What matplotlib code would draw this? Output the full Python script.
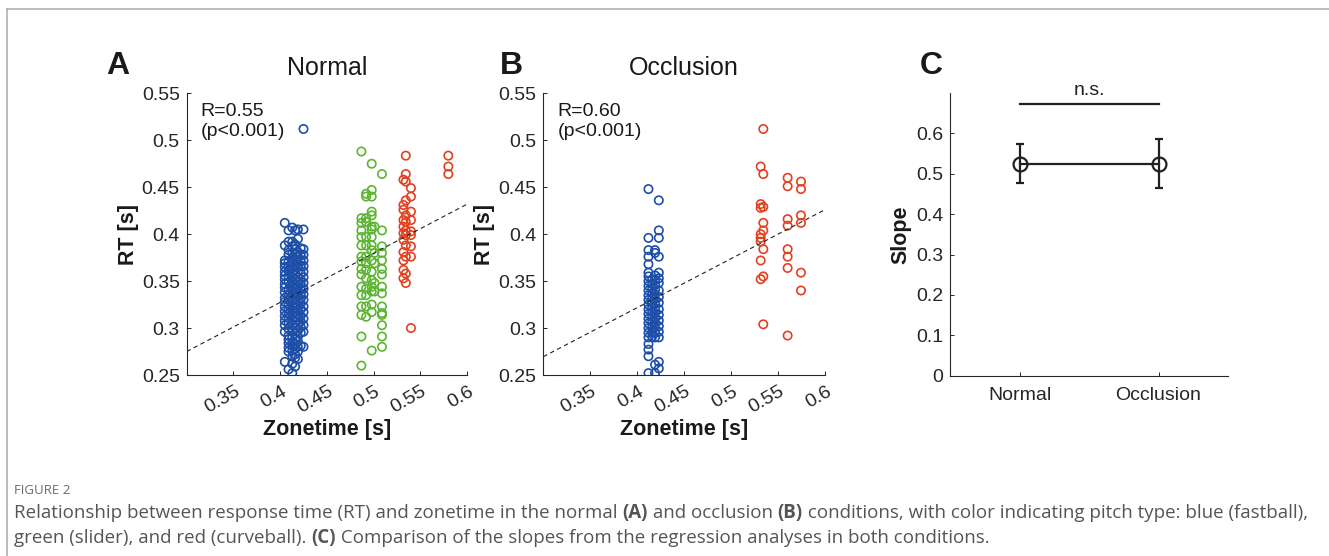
import matplotlib
matplotlib.use("Agg")
import matplotlib.pyplot as plt
from matplotlib.transforms import ScaledTranslation
from matplotlib.lines import Line2D

plt.rcParams['font.family'] = ['Liberation Sans', 'DejaVu Sans']

# ---------------- data ----------------
# Panel A (Normal): (zonetime, RT) pairs by pitch type
a_blue = [
    (0.405, 0.412), (0.405, 0.388), (0.405, 0.372), (0.405, 0.369), (0.405, 0.365), (0.405, 0.360),
    (0.405, 0.356), (0.405, 0.352), (0.405, 0.347), (0.405, 0.343), (0.405, 0.338), (0.405, 0.332),
    (0.405, 0.328), (0.405, 0.323), (0.405, 0.318), (0.405, 0.313), (0.405, 0.308), (0.405, 0.303),
    (0.405, 0.296), (0.405, 0.264),
    (0.409, 0.404), (0.409, 0.392), (0.409, 0.383), (0.409, 0.378), (0.409, 0.371), (0.409, 0.366),
    (0.409, 0.361), (0.409, 0.355), (0.409, 0.349), (0.409, 0.341), (0.409, 0.336), (0.409, 0.330),
    (0.409, 0.325), (0.409, 0.320), (0.409, 0.315), (0.409, 0.311), (0.409, 0.305), (0.409, 0.299),
    (0.409, 0.292), (0.409, 0.288), (0.409, 0.284), (0.409, 0.279), (0.409, 0.275), (0.409, 0.256),
    (0.413, 0.407), (0.413, 0.392), (0.413, 0.387), (0.413, 0.380), (0.413, 0.374), (0.413, 0.369),
    (0.413, 0.364), (0.413, 0.359), (0.413, 0.354), (0.413, 0.350), (0.413, 0.345), (0.413, 0.340),
    (0.413, 0.335), (0.413, 0.329), (0.413, 0.324), (0.413, 0.319), (0.413, 0.314), (0.413, 0.309),
    (0.413, 0.303), (0.413, 0.297), (0.413, 0.290), (0.413, 0.285), (0.413, 0.281), (0.413, 0.276),
    (0.413, 0.270), (0.413, 0.262), (0.413, 0.252),
    (0.416, 0.404), (0.416, 0.389), (0.416, 0.384), (0.416, 0.379), (0.416, 0.373), (0.416, 0.367),
    (0.416, 0.362), (0.416, 0.357), (0.416, 0.352), (0.416, 0.347), (0.416, 0.343), (0.416, 0.338),
    (0.416, 0.333), (0.416, 0.327), (0.416, 0.322), (0.416, 0.317), (0.416, 0.312), (0.416, 0.306),
    (0.416, 0.300), (0.416, 0.294), (0.416, 0.288), (0.416, 0.283), (0.416, 0.278), (0.416, 0.272),
    (0.416, 0.268), (0.416, 0.259),
    (0.419, 0.405), (0.419, 0.395), (0.419, 0.381), (0.419, 0.376), (0.419, 0.370), (0.419, 0.365),
    (0.419, 0.360), (0.419, 0.354), (0.419, 0.349), (0.419, 0.344), (0.419, 0.339), (0.419, 0.334),
    (0.419, 0.329), (0.419, 0.324), (0.419, 0.319), (0.419, 0.314), (0.419, 0.309), (0.419, 0.303),
    (0.419, 0.297), (0.419, 0.291), (0.419, 0.286), (0.419, 0.280), (0.419, 0.275), (0.419, 0.267),
    (0.422, 0.385), (0.422, 0.378), (0.422, 0.371), (0.422, 0.366), (0.422, 0.358), (0.422, 0.352),
    (0.422, 0.347), (0.422, 0.341), (0.422, 0.336), (0.422, 0.331), (0.422, 0.326), (0.422, 0.320),
    (0.422, 0.313), (0.422, 0.307), (0.422, 0.301), (0.422, 0.295), (0.422, 0.281),
    (0.425, 0.512), (0.425, 0.405), (0.425, 0.384), (0.425, 0.378), (0.425, 0.372), (0.425, 0.366),
    (0.425, 0.360), (0.425, 0.354), (0.425, 0.348), (0.425, 0.342), (0.425, 0.336), (0.425, 0.330),
    (0.425, 0.323), (0.425, 0.317), (0.425, 0.310), (0.425, 0.303), (0.425, 0.296), (0.425, 0.280),
]
a_green = [
    (0.487, 0.488), (0.498, 0.475), (0.509, 0.464),
    (0.492, 0.443), (0.498, 0.447), (0.492, 0.440), (0.498, 0.440),
    (0.498, 0.424), (0.498, 0.420),
    (0.487, 0.417), (0.492, 0.417), (0.487, 0.412), (0.492, 0.413),
    (0.498, 0.408), (0.501, 0.408), (0.498, 0.405), (0.509, 0.404), (0.487, 0.404),
    (0.487, 0.397), (0.492, 0.397), (0.498, 0.397), (0.487, 0.388), (0.492, 0.388), (0.498, 0.388),
    (0.509, 0.387), (0.509, 0.380), (0.498, 0.383), (0.501, 0.380),
    (0.487, 0.376), (0.492, 0.376), (0.487, 0.371), (0.492, 0.369),
    (0.498, 0.372), (0.501, 0.369), (0.509, 0.372), (0.509, 0.363),
    (0.487, 0.363), (0.492, 0.362), (0.498, 0.360),
    (0.487, 0.357), (0.492, 0.353), (0.498, 0.351), (0.501, 0.348), (0.509, 0.357),
    (0.487, 0.344), (0.498, 0.344), (0.492, 0.342), (0.498, 0.339), (0.501, 0.339),
    (0.509, 0.344), (0.509, 0.337), (0.487, 0.335), (0.492, 0.335),
    (0.487, 0.323), (0.492, 0.323), (0.498, 0.325),
    (0.487, 0.314), (0.498, 0.317), (0.492, 0.312),
    (0.509, 0.323), (0.509, 0.316), (0.509, 0.314), (0.509, 0.303),
    (0.487, 0.291), (0.509, 0.291), (0.498, 0.276), (0.509, 0.280), (0.487, 0.260),
]
a_red = [
    (0.5345, 0.4836), (0.580, 0.4836), (0.580, 0.472), (0.580, 0.464),
    (0.5345, 0.464), (0.532, 0.458), (0.5345, 0.456),
    (0.540, 0.449), (0.540, 0.440), (0.5345, 0.436), (0.532, 0.431),
    (0.532, 0.426), (0.540, 0.424), (0.5345, 0.420),
    (0.532, 0.415), (0.540, 0.415), (0.5345, 0.413),
    (0.532, 0.408), (0.5345, 0.404), (0.540, 0.403), (0.532, 0.401),
    (0.5345, 0.399), (0.540, 0.399), (0.532, 0.394),
    (0.5345, 0.388), (0.540, 0.387), (0.532, 0.381),
    (0.5345, 0.376), (0.540, 0.376), (0.532, 0.372),
    (0.532, 0.362), (0.5345, 0.358), (0.532, 0.353), (0.5345, 0.348),
    (0.540, 0.300),
]

# Panel B (Occlusion)
b_blue = [
    (0.412, 0.448), (0.412, 0.396), (0.412, 0.383), (0.412, 0.376), (0.412, 0.368), (0.412, 0.359),
    (0.412, 0.355), (0.412, 0.350), (0.412, 0.345), (0.412, 0.340), (0.412, 0.335), (0.412, 0.330),
    (0.412, 0.325), (0.412, 0.320), (0.412, 0.315), (0.412, 0.310), (0.412, 0.305), (0.412, 0.300),
    (0.412, 0.295), (0.412, 0.290), (0.412, 0.283), (0.412, 0.277), (0.412, 0.270), (0.412, 0.252),
    (0.416, 0.352), (0.416, 0.347), (0.416, 0.342), (0.416, 0.337), (0.416, 0.332), (0.416, 0.327),
    (0.416, 0.322), (0.416, 0.317), (0.416, 0.312), (0.416, 0.307), (0.416, 0.301), (0.416, 0.296),
    (0.416, 0.291),
    (0.419, 0.383), (0.419, 0.380), (0.419, 0.356), (0.419, 0.351), (0.419, 0.346), (0.419, 0.341),
    (0.419, 0.336), (0.419, 0.331), (0.419, 0.326), (0.419, 0.321), (0.419, 0.316), (0.419, 0.311),
    (0.419, 0.306), (0.419, 0.301), (0.419, 0.295), (0.419, 0.290), (0.419, 0.261), (0.419, 0.252),
    (0.423, 0.436), (0.423, 0.404), (0.423, 0.396), (0.423, 0.376), (0.423, 0.359), (0.423, 0.353),
    (0.423, 0.348), (0.423, 0.340), (0.423, 0.333), (0.423, 0.327), (0.423, 0.320), (0.423, 0.314),
    (0.423, 0.308), (0.423, 0.302), (0.423, 0.296), (0.423, 0.290), (0.423, 0.264), (0.423, 0.257),
]
b_red = [
    (0.5343, 0.512), (0.5315, 0.472), (0.5343, 0.464),
    (0.5315, 0.432), (0.5343, 0.429), (0.5315, 0.428),
    (0.5343, 0.412), (0.5343, 0.404),
    (0.5315, 0.400), (0.5315, 0.396), (0.5315, 0.392), (0.5343, 0.384),
    (0.5315, 0.372), (0.5343, 0.355), (0.5315, 0.352), (0.5343, 0.304),
    (0.5602, 0.460), (0.5602, 0.451), (0.5602, 0.416), (0.5602, 0.409),
    (0.5602, 0.384), (0.5602, 0.376), (0.5602, 0.364), (0.5602, 0.292),
    (0.5744, 0.456), (0.5744, 0.448), (0.5744, 0.420), (0.5744, 0.412),
    (0.5744, 0.359), (0.5744, 0.340),
]

# regression lines (value at x=0.3 and slope)
a_fit = (0.275, 0.523)
b_fit = (0.2695, 0.522)
r_text = ["R=0.55\n(p<0.001)", "R=0.60\n(p<0.001)"]

# Panel C
conditions = ["Normal", "Occlusion"]
slopes = [0.525, 0.525]
slope_lo = [0.478, 0.466]
slope_hi = [0.573, 0.585]
ns_level = 0.672

xticks_ab = [0.35, 0.4, 0.45, 0.5, 0.55, 0.6]
xticklabels_ab = ["0.35", "0.4", "0.45", "0.5", "0.55", "0.6"]
yticks_ab = [0.25, 0.3, 0.35, 0.4, 0.45, 0.5, 0.55]
yticklabels_ab = ["0.25", "0.3", "0.35", "0.4", "0.45", "0.5", "0.55"]
yticks_c = [0, 0.1, 0.2, 0.3, 0.4, 0.5, 0.6]
yticklabels_c = ["0", "0.1", "0.2", "0.3", "0.4", "0.5", "0.6"]

BLUE = "#1d4ea8"
GREEN = "#5cb531"
RED = "#e2401f"
AXC = "#262626"

W, H = 1329, 556
fig = plt.figure(figsize=(W / 100, H / 100), dpi=100)


def px_rect(l, r, t, b):
    return [l / W, 1 - b / H, (r - l) / W, (b - t) / H]


def style_axes(ax):
    for s in ["top", "right"]:
        ax.spines[s].set_visible(False)
    for s in ["left", "bottom"]:
        ax.spines[s].set_color(AXC)
        ax.spines[s].set_linewidth(0.8)
    ax.tick_params(direction="in", length=3, width=0.7, colors=AXC,
                   labelsize=14, labelcolor=AXC)


def scatter_panel(ax, series, fit, rtxt, title, letter):
    for pts, col in series:
        xs = [p[0] for p in pts]
        ys = [p[1] for p in pts]
        ax.scatter(xs, ys, s=36, facecolors="none", edgecolors=col, linewidths=1.2, zorder=3)
    x0, x1 = 0.3, 0.6
    ax.plot([x0, x1], [fit[0], fit[0] + fit[1] * (x1 - x0)], ls=(0, (4, 3)),
            color="#222222", lw=0.8, zorder=4)
    ax.set_xlim(0.3, 0.6)
    ax.set_ylim(0.25, 0.55)
    ax.set_yticks(yticks_ab)
    ax.set_yticklabels(yticklabels_ab)
    ax.set_xticks(xticks_ab)
    ax.set_xticklabels(xticklabels_ab, rotation=30, ha="right", va="center",
                       rotation_mode="anchor")
    style_axes(ax)
    ax.tick_params(axis="x", pad=11)
    ax.tick_params(axis="y", pad=5)
    for lbl in ax.get_xticklabels():
        lbl.set_transform(lbl.get_transform() + ScaledTranslation(5 / 100, 0, fig.dpi_scale_trans))
    ax.text(0.05, 0.965, rtxt, transform=ax.transAxes, ha="left", va="top",
            fontsize=14, color="#1a1a1a", linespacing=1.2)
    ax.set_xlabel("Zonetime [s]", fontsize=15.5, fontweight="bold", labelpad=2, color="#1a1a1a")
    ax.set_ylabel("RT [s]", fontsize=15.5, fontweight="bold", labelpad=2, color="#1a1a1a")
    ax.set_title(title, fontsize=18, pad=13, color="#1a1a1a")


axA = fig.add_axes(px_rect(186.7, 467, 93.3, 375))
scatter_panel(axA, [(a_blue, BLUE), (a_green, GREEN), (a_red, RED)], a_fit, r_text[0], "Normal", "A")
axB = fig.add_axes(px_rect(543.3, 825, 93.3, 375))
scatter_panel(axB, [(b_blue, BLUE), (b_red, RED)], b_fit, r_text[1], "Occlusion", "B")

axC = fig.add_axes(px_rect(950, 1228, 93, 375.7))
xc = [1, 2]
yerr = [[s - lo for s, lo in zip(slopes, slope_lo)], [hi - s for s, hi in zip(slopes, slope_hi)]]
axC.errorbar(xc, slopes, yerr=yerr, fmt="-o", color="#231f20", mfc="none", mec="#231f20",
             ms=10, mew=1.6, lw=1.6, capsize=3, capthick=1.6, elinewidth=1.6, zorder=3)
axC.plot([1, 2], [ns_level, ns_level], color="#231f20", lw=1.6)
axC.text(1.5, ns_level + 0.012, "n.s.", ha="center", va="bottom", fontsize=14, color="#231f20")
axC.set_xlim(0.5, 2.5)
axC.set_ylim(0, 0.7)
axC.set_xticks(xc)
axC.set_xticklabels(conditions)
axC.set_yticks(yticks_c)
axC.set_yticklabels(yticklabels_c)
style_axes(axC)
axC.tick_params(axis="x", pad=8)
axC.tick_params(axis="y", pad=5)
axC.set_ylabel("Slope", fontsize=15.5, fontweight="bold", labelpad=3, color="#1a1a1a")

# panel letters
for lx, lt in [(118, "A"), (511.7, "B"), (931.7, "C")]:
    fig.text(lx / W, 1 - 66 / H, lt, fontsize=23, fontweight="bold", ha="center", va="center",
             color="#1a1a1a")

# frame lines of the page
fig.add_artist(Line2D([7 / W, 1], [1 - 9 / H, 1 - 9 / H], transform=fig.transFigure,
                      color="#b0b0b0", lw=1.2))
fig.add_artist(Line2D([7 / W, 7 / W], [0, 1 - 9 / H], transform=fig.transFigure,
                      color="#b0b0b0", lw=1.2))

# caption
CAP_FONT = ["Open Sans", "DejaVu Sans"]
fig.text(14 / W, 1 - 490 / H, "FIGURE 2", fontsize=9.5, color="#6d6d6d", family=CAP_FONT,
         ha="left", va="center")

line1 = [("Relationship between response time (RT) and zonetime in the normal ", "normal"),
         ("(A)", "bold"), (" and occlusion ", "normal"), ("(B)", "bold"),
         (" conditions, with color indicating pitch type: blue (fastball),", "normal")]
line2 = [("green (slider), and red (curveball). ", "normal"), ("(C)", "bold"),
         (" Comparison of the slopes from the regression analyses in both conditions.", "normal")]

renderer = fig.canvas.get_renderer()


def draw_line(segs, x_px, y_px, size):
    x = x_px
    for txt, wt in segs:
        t = fig.text(x / W, 1 - y_px / H, txt, fontsize=size, fontweight=wt, family=CAP_FONT,
                     color="#555555", ha="left", va="center")
        bb = t.get_window_extent(renderer)
        x = bb.x1
    return x


# choose font size so that the first line spans its width in the reference
probe = fig.text(0, 0, "".join(s for s, _ in line1), fontsize=10, family=CAP_FONT)
wprobe = probe.get_window_extent(renderer).width
probe.remove()
cap_size = 10 * (1305 - 14) / wprobe
draw_line(line1, 14, 513, cap_size)
draw_line(line2, 14, 538, cap_size)

fig.savefig("out.png", dpi=100)
